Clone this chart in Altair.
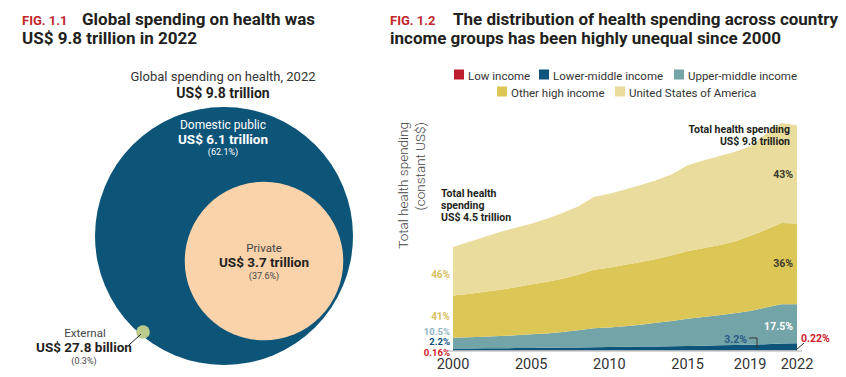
import altair as alt
import pandas as pd

FONT = "Roboto"

# ---------------- data ----------------
years = list(range(2000, 2023))
groups = ["Low income", "Lower-middle income", "Upper-middle income",
          "Other high income", "United States of America"]
group_colors = ["#be1e2d", "#0c5479", "#72a4a8", "#dcc756", "#e9dc9c"]

# health spending, trillion constant US$
low_income = [0.007, 0.008, 0.008, 0.009, 0.009, 0.010, 0.010, 0.011, 0.012, 0.013, 0.013, 0.014,
              0.015, 0.015, 0.016, 0.017, 0.017, 0.018, 0.019, 0.019, 0.020, 0.021, 0.022]
lower_middle = [0.099, 0.102, 0.107, 0.111, 0.117, 0.122, 0.129, 0.136, 0.144, 0.153, 0.159, 0.166,
                0.175, 0.185, 0.194, 0.203, 0.215, 0.227, 0.239, 0.253, 0.270, 0.299, 0.313]
upper_middle = [0.464, 0.480, 0.505, 0.530, 0.554, 0.588, 0.621, 0.673, 0.744, 0.824, 0.848, 0.890,
                0.950, 1.020, 1.090, 1.180, 1.238, 1.305, 1.372, 1.458, 1.590, 1.700, 1.685]
other_high = [1.83, 1.88, 1.94, 2.00, 2.08, 2.16, 2.24, 2.31, 2.40, 2.53, 2.58, 2.66,
              2.71, 2.76, 2.85, 2.93, 2.98, 3.03, 3.11, 3.25, 3.37, 3.52, 3.50]
usa = [2.10, 2.25, 2.38, 2.50, 2.58, 2.63, 2.73, 2.84, 2.96, 3.15, 3.21, 3.26,
       3.34, 3.41, 3.50, 3.71, 3.80, 3.85, 3.87, 3.88, 4.16, 4.33, 4.25]

x_ticks = [2000, 2005, 2010, 2015, 2019, 2022]

circle_names = ["Global total", "Private", "External"]
circle_values = [9.8, 3.7, 0.0278]  # trillion US$

# ---------------- tables ----------------
series = [low_income, lower_middle, upper_middle, other_high, usa]
rows = []
for rank, (g, vals) in enumerate(zip(groups, series)):
    for yr, v in zip(years, vals):
        rows.append({"year": yr, "group": g, "value": v, "rank": rank})
area_df = pd.DataFrame(rows)
tick_df = pd.DataFrame({"year": x_ticks, "label": [str(t) for t in x_ticks]})
circ_df = pd.DataFrame({"name": circle_names, "value": circle_values})
ONE = pd.DataFrame({"k": [0]})

xscale = alt.Scale(domain=[2000, 2022], range=[453, 797], nice=False, zero=False)
yscale = alt.Scale(domain=[0, 10], range=[351, 120], nice=False)
cscale = alt.Scale(domain=groups, range=group_colors)
# symbol size = (diameter)^2 ; total circle diameter ~258 px
size_scale = alt.Scale(domain=[0, 9.8], range=[0, 66564], zero=True)


def label(txt, x, y, size=12, color="#333333", weight="normal", align="left", angle=0, font=FONT):
    kw = dict(text=txt, fontSize=size, color=color, fontWeight=weight, align=align,
              baseline="alphabetic", font=font)
    if angle:
        kw["angle"] = angle
    return alt.Chart(ONE).mark_text(**kw).encode(x=alt.value(x), y=alt.value(y))


def seg(x1, y1, x2, y2, color="#333333", w=1.0):
    return alt.Chart(ONE).mark_rule(color=color, strokeWidth=w).encode(
        x=alt.value(x1), y=alt.value(y1), x2=alt.value(x2), y2=alt.value(y2))


def circle(name, cx, cy, color):
    return alt.Chart(circ_df).transform_filter(alt.datum.name == name).mark_circle(
        opacity=1, color=color).encode(
        x=alt.value(cx), y=alt.value(cy),
        size=alt.Size("value:Q", scale=size_scale, legend=None))


layers = []

# ---------------- left panel ----------------
RED = "#c0272d"
DARK = "#231f20"
layers += [
    label("FIG. 1.1", 22, 25, 13, RED, "bold"),
    label("Global spending on health was", 82, 25, 17, DARK, "bold"),
    label("US$ 9.8 trillion in 2022", 22, 44, 17, DARK, "bold"),
    label("Global spending on health, 2022", 223, 81, 13, "#333333", "normal", "center"),
    label("US$ 9.8 trillion", 223, 98, 14, DARK, "bold", "center"),
    circle("Global total", 224, 236, "#0d5479"),
    circle("Private", 264, 261, "#fbd3ab"),
    circle("External", 143, 332, "#b9cc8e"),
    seg(129, 345, 141, 334, "#222222", 1),
    label("Domestic public", 223, 129, 12, "#ffffff", "normal", "center"),
    label("US$ 6.1 trillion", 223, 144, 13.5, "#ffffff", "bold", "center"),
    label("(62.1%)", 223, 155, 9, "#ffffff", "normal", "center"),
    label("Private", 264, 252, 11.5, "#444444", "normal", "center"),
    label("US$ 3.7 trillion", 264, 267, 13.5, DARK, "bold", "center"),
    label("(37.6%)", 264, 279, 9, "#444444", "normal", "center"),
    label("External", 85, 337, 11.5, "#444444", "normal", "center"),
    label("US$ 27.8 billion", 84, 352, 13.5, DARK, "bold", "center"),
    label("(0.3%)", 84, 364, 9, "#444444", "normal", "center"),
]

# ---------------- right panel ----------------
layers += [
    label("FIG. 1.2", 390, 25, 13, RED, "bold"),
    label("The distribution of health spending across country", 453, 25, 17, DARK, "bold"),
    label("income groups has been highly unequal since 2000", 390, 44, 17, DARK, "bold"),
]

# custom legend
legend_pos = [(459, 74.5), (544, 74.5), (679, 74.5), (502, 91.5), (620, 91.5)]
for g, (lx, ly) in zip(groups, legend_pos):
    layers.append(
        alt.Chart(pd.DataFrame({"group": [g]})).mark_square(size=100, opacity=1).encode(
            x=alt.value(lx), y=alt.value(ly),
            color=alt.Color("group:N", scale=cscale, legend=None)))
    layers.append(label(g, lx + 9, ly + 5, 11.5, "#333333"))

# stacked area
layers.append(
    alt.Chart(area_df).mark_area(interpolate="linear").encode(
        x=alt.X("year:Q", scale=xscale, axis=None),
        y=alt.Y("value:Q", stack="zero", scale=yscale, axis=None),
        color=alt.Color("group:N", scale=cscale, legend=None),
        order=alt.Order("rank:Q", sort="ascending"),
    ))

# axis baseline & labels
layers.append(seg(447, 351, 802, 351, "#c8c8c8", 1.5))
layers.append(
    alt.Chart(tick_df).mark_text(fontSize=14.5, font=FONT, color="#333333", baseline="alphabetic",
                                 align="center").encode(
        x=alt.X("year:Q", scale=xscale, axis=None), y=alt.value(369), text="label:N"))

# y axis title
layers += [
    label("Total health spending", 408, 122, 13.5, "#444444", 300, "right", 270),
    label("(constant US$)", 425, 122, 13.5, "#444444", 300, "right", 270),
]

# annotations
BOLD = "bold"
layers += [
    label("Total health spending", 790, 133, 10.5, DARK, BOLD, "right"),
    label("US$ 9.8 trillion", 790, 145, 10.5, DARK, BOLD, "right"),
    label("Total health", 441, 197, 10.5, DARK, BOLD),
    label("spending", 441, 209, 10.5, DARK, BOLD),
    label("US$ 4.5 trillion", 441, 221, 10.5, DARK, BOLD),
    label("46%", 450, 278, 10, "#d6c15f", BOLD, "right"),
    label("41%", 450, 320, 10, "#d6c15f", BOLD, "right"),
    label("10.5%", 450, 334.5, 9.5, "#8db3c2", BOLD, "right"),
    label("2.2%", 450, 345, 9.5, "#0d4c80", BOLD, "right"),
    label("0.16%", 450, 355.5, 9.5, "#d0202a", BOLD, "right"),
    label("43%", 793, 178, 10.5, "#3a3a2a", BOLD, "right"),
    label("36%", 793, 267, 10.5, "#3a3a2a", BOLD, "right"),
    label("17.5%", 793, 330, 10.5, "#ffffff", BOLD, "right"),
    label("3.2%", 747, 342.5, 10.5, "#2a5a8a", BOLD, "right"),
    seg(749, 338, 757, 338, "#333333", 1),
    seg(757, 338, 757, 348, "#333333", 1),
    label("0.22%", 801, 341.5, 10.5, "#d0202a", BOLD),
    seg(796, 350, 804, 343, "#333333", 1),
]

chart = alt.layer(*layers).properties(
    width=846, height=377,
    autosize=alt.AutoSizeParams(type="none"),
    padding=0,
    background="#ffffff",
).configure_view(stroke=None)

chart.save("out.html", embed_options={"renderer": "svg", "actions": False})
